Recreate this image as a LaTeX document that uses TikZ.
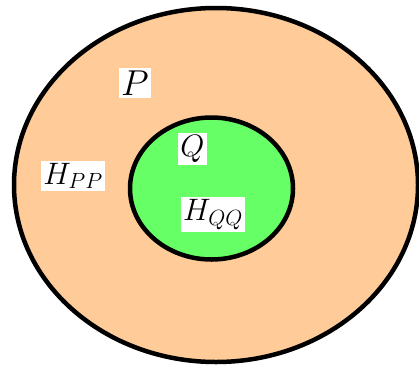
\RequirePackage{fix-cm}
\documentclass[tikz,border=0pt]{standalone}
\newcommand{\bigsub}[1]{\hbox{\fontsize{22}{24}\selectfont$#1$}}
\begin{document}
\begin{tikzpicture}[x=1pt,y=-1pt,
  region/.style={draw=black,line width=4.5pt},
  lbl/.style={fill=white,inner sep=2.5pt,text=black}]
\useasboundingbox (0,0) rectangle (419,364);
\fill[white] (0,0) rectangle (419,364);
\draw[region,fill={rgb,255:red,255;green,204;blue,153}] (216,185) ellipse [x radius=202,y radius=177];
\draw[region,fill={rgb,255:red,102;green,255;blue,102}] (211.5,188.5) ellipse [x radius=81.5,y radius=71];
\node[lbl,font=\fontsize{36}{40}\selectfont] (P) at (135,83) {$P$};
\node[lbl,font=\fontsize{31}{36}\selectfont] (HPP) at (73,176) {$H_{\bigsub{PP}}$};
\node[lbl,font=\fontsize{31}{36}\selectfont] (Q) at (192.5,149) {$Q$};
\node[lbl,font=\fontsize{31}{36}\selectfont] (HQQ) at (213,214.5) {$H_{\bigsub{QQ}}$};
\end{tikzpicture}
\end{document}
